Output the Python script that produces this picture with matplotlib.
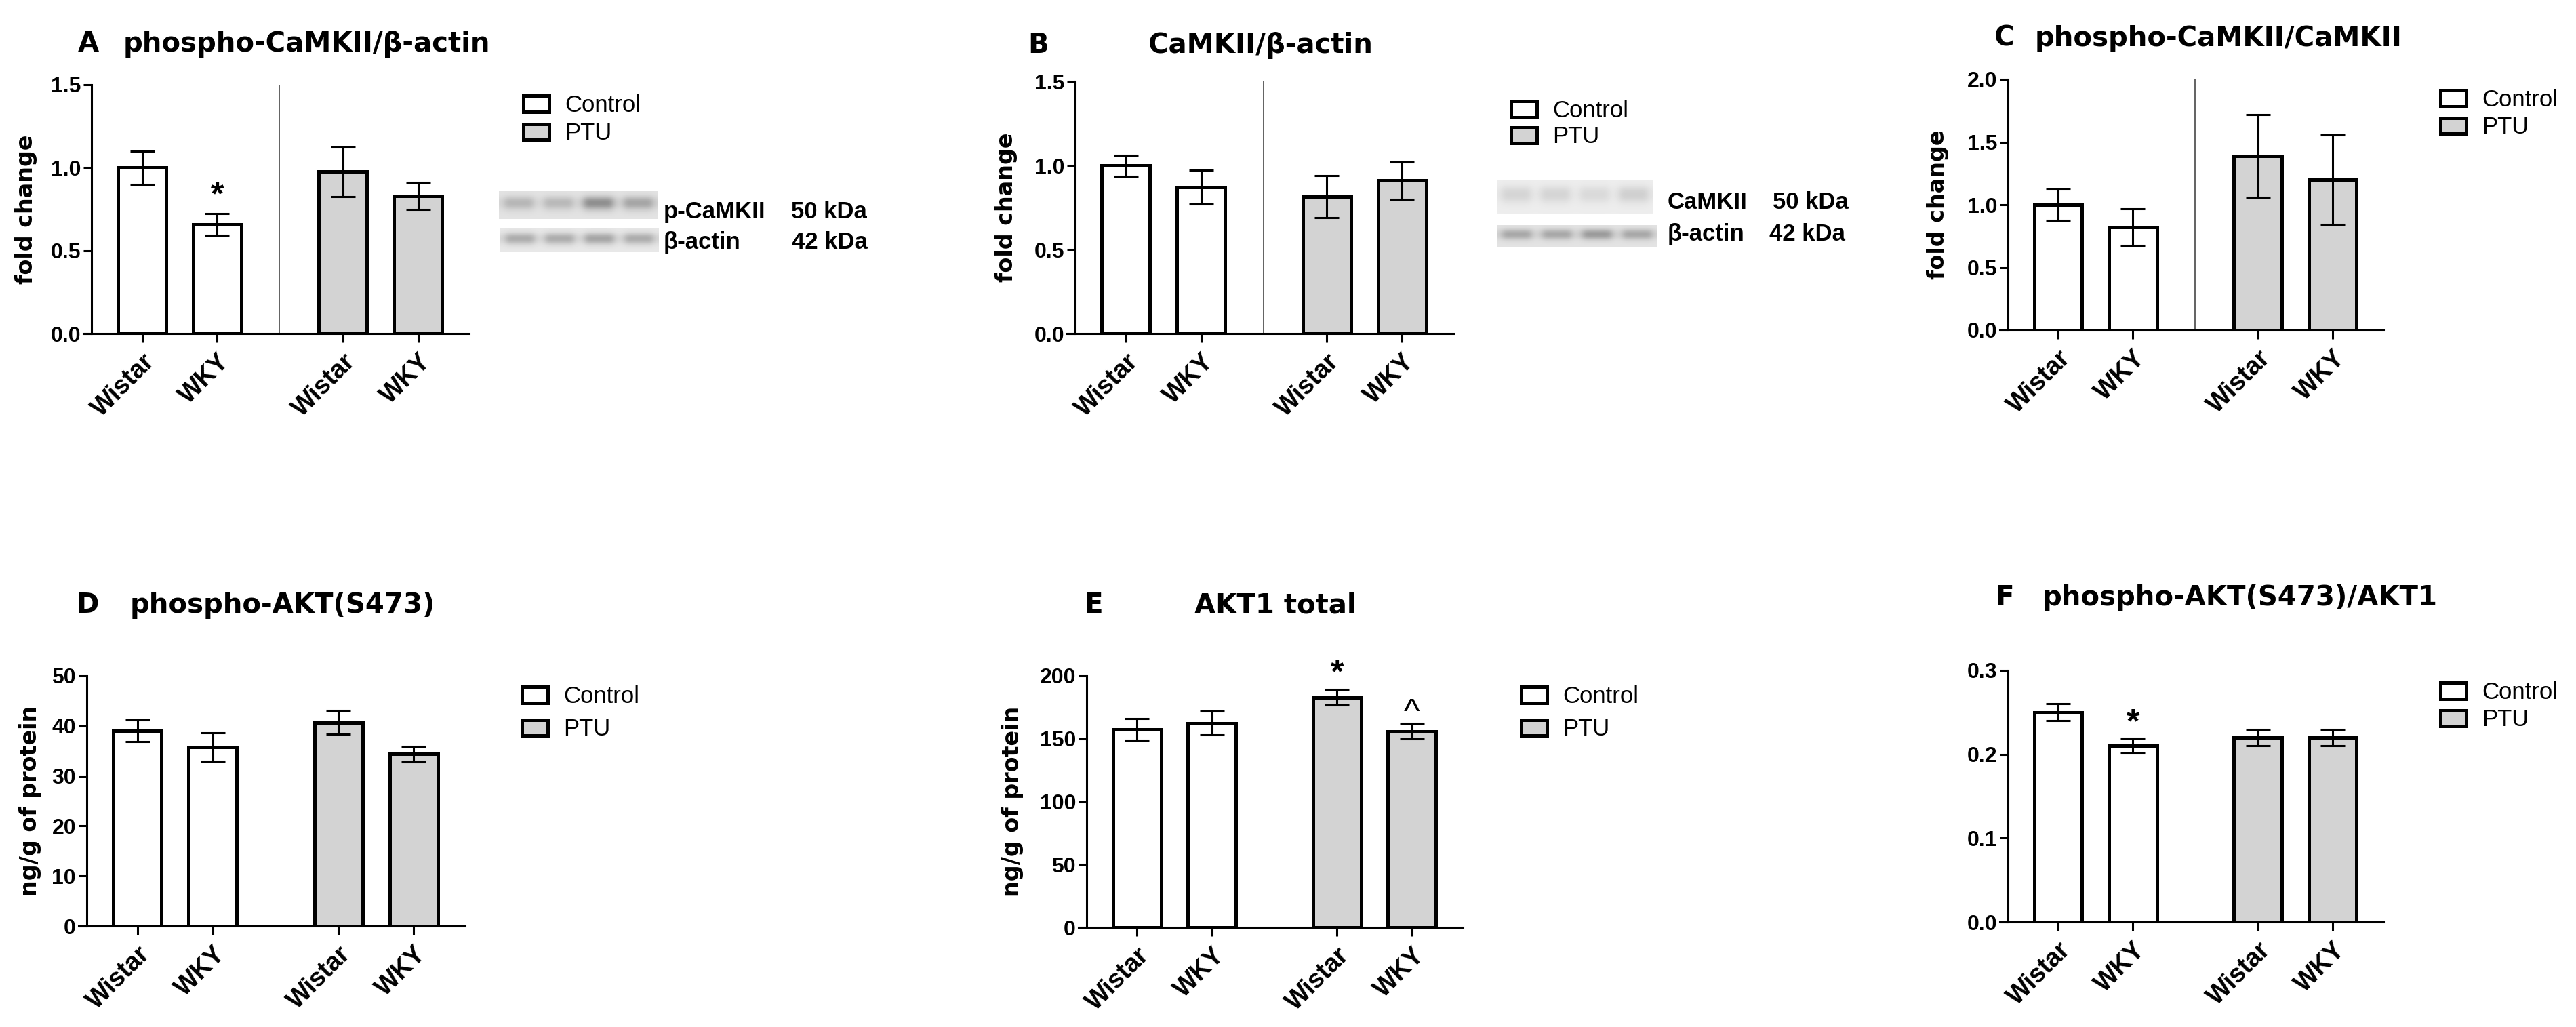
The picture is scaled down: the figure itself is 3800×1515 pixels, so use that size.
import matplotlib
matplotlib.use('Agg')
import matplotlib.pyplot as plt
import numpy as np
from matplotlib.patches import Patch

W, H = 3800, 1515
plt.rcParams['font.family'] = ['Liberation Sans', 'DejaVu Sans']

# data (mean, SEM)
groups = ['Wistar', 'WKY', 'Wistar', 'WKY']
treatments = ['Control', 'Control', 'PTU', 'PTU']
positions = [0, 1, 2.67, 3.67]

a_mean = [1.00, 0.658, 0.975, 0.83]
a_err = [0.10, 0.065, 0.149, 0.083]
b_mean = [0.998, 0.87, 0.815, 0.91]
b_err = [0.063, 0.10, 0.125, 0.11]
c_mean = [1.00, 0.82, 1.39, 1.20]
c_err = [0.122, 0.145, 0.33, 0.355]
d_mean = [39.0, 35.8, 40.7, 34.4]
d_err = [2.15, 2.85, 2.4, 1.55]
e_mean = [157.5, 162.5, 183.0, 156.0]
e_err = [8.5, 9.5, 6.0, 6.0]
f_mean = [0.25, 0.21, 0.22, 0.22]
f_err = [0.01, 0.009, 0.01, 0.01]

titles = {'A': 'phospho-CaMKII/β-actin', 'B': 'CaMKII/β-actin',
          'C': 'phospho-CaMKII/CaMKII', 'D': 'phospho-AKT(S473)',
          'E': 'AKT1 total', 'F': 'phospho-AKT(S473)/AKT1'}
ylabels = {'A': 'fold change', 'B': 'fold change', 'C': 'fold change',
           'D': 'ng/g of protein', 'E': 'ng/g of protein', 'F': None}
yticks = {'A': [0, 0.5, 1.0, 1.5], 'B': [0, 0.5, 1.0, 1.5],
          'C': [0, 0.5, 1.0, 1.5, 2.0], 'D': [0, 10, 20, 30, 40, 50],
          'E': [0, 50, 100, 150, 200], 'F': [0, 0.1, 0.2, 0.3]}
tick_fmt = {'A': '{:.1f}', 'B': '{:.1f}', 'C': '{:.1f}', 'D': '{:.0f}',
            'E': '{:.0f}', 'F': '{:.1f}'}
sig_marks = [('A', 1, 0.895, '*'), ('E', 2, 210, '*'), ('E', 3, 179, '^'),
             ('F', 1, 0.25, '*')]

# western blot lane darkness (4 lanes each strip)
blot_a_top = [0.18, 0.17, 0.34, 0.25]
blot_a_bot = [0.24, 0.24, 0.27, 0.24]
blot_b_top = [0.10, 0.10, 0.08, 0.12]
blot_b_bot = [0.24, 0.24, 0.29, 0.24]
band_profile = [0.05, 0.2, 0.6, 0.95, 1.0, 0.8, 0.4, 0.15, 0.05, 0.0]

means = {'A': a_mean, 'B': b_mean, 'C': c_mean, 'D': d_mean, 'E': e_mean, 'F': f_mean}
errs = {'A': a_err, 'B': b_err, 'C': c_err, 'D': d_err, 'E': e_err, 'F': f_err}

# layout in figure pixels (left edge = where the x axis line starts)
axes_px = {'A': (123, 125, 692, 492), 'B': (1574, 120, 2144, 492),
           'C': (2950, 117, 3516, 487), 'D': (116, 997, 686, 1366),
           'E': (1591, 997, 2158, 1368), 'F': (2950, 989, 3516, 1360)}
title_px = {'A': (115, 182, 76), 'B': (1516, 1694, 78), 'C': (2942, 3002, 68),
            'D': (112, 192, 904), 'E': (1599, 1762, 904), 'F': (2943, 3013, 893)}
legend_px = {'A': (772, 141, 41), 'B': (2229, 149, 38), 'C': (3600, 133, 40),
             'D': (770, 1013, 48), 'E': (2244, 1013, 48), 'F': (3600, 1007, 40)}
ylabel_x = {'A': -0.12, 'B': -0.128, 'C': -0.132, 'D': -0.097, 'E': -0.143}
dividers = {'A', 'B', 'C'}
X_LEFT, SPINE_X, X_RIGHT = -0.78, -0.67, 4.35

PTU_GRAY = '#d3d3d3'
colors = ['white' if t == 'Control' else PTU_GRAY for t in treatments]
BOLD_WIDE = 'DejaVu Sans'

fig = plt.figure(figsize=(W / 100, H / 100), dpi=100)


def rect(x0, y0, x1, y1):
    return [x0 / W, 1 - y1 / H, (x1 - x0) / W, (y1 - y0) / H]


axes = {}
for key in 'ABCDEF':
    ax = fig.add_axes(rect(*axes_px[key]))
    axes[key] = ax
    ax.bar(positions, means[key], width=0.64, color=colors, edgecolor='black',
           linewidth=3.6, zorder=2)
    ax.errorbar(positions, means[key], yerr=errs[key], fmt='none', ecolor='black',
                elinewidth=2.2, capsize=13, capthick=2.2, zorder=3)
    ticks = yticks[key]
    ax.set_ylim(0, ticks[-1])
    ax.set_xlim(X_LEFT, X_RIGHT)
    ax.spines['left'].set_position(('data', SPINE_X))
    ax.set_yticks(ticks)
    ax.set_yticklabels([tick_fmt[key].format(t) for t in ticks])
    ax.set_xticks(positions)
    ax.set_xticklabels(groups, rotation=45, ha='right', rotation_mode='anchor',
                       fontsize=27, fontweight='bold')
    for lab in ax.get_yticklabels():
        lab.set_fontweight('bold')
    ax.tick_params(axis='y', length=8.6, width=2.2, labelsize=23, pad=3)
    ax.tick_params(axis='x', length=9, width=2.2, pad=8)
    for side in ['top', 'right']:
        ax.spines[side].set_visible(False)
    for side in ['left', 'bottom']:
        ax.spines[side].set_linewidth(2.2)
    if key in dividers:
        ax.axvline(1.83, ymin=0, ymax=1, color='#555555', linewidth=1.3, zorder=1)
    if ylabels[key]:
        ax.set_ylabel(ylabels[key], fontsize=24, fontweight='bold', family=BOLD_WIDE)
        ax.yaxis.set_label_coords(ylabel_x[key], 0.5)

    lx, ly, sp = legend_px[key]
    handles = [Patch(facecolor='white', edgecolor='black', linewidth=3.6),
               Patch(facecolor=PTU_GRAY, edgecolor='black', linewidth=3.6)]
    ax.legend(handles, ['Control', 'PTU'], loc='upper left',
              bbox_to_anchor=(lx / W, 1 - (ly - 2) / H), bbox_transform=fig.transFigure,
              frameon=False, fontsize=25, handlelength=1.09, handleheight=0.66,
              handletextpad=0.66, labelspacing=(sp - 32.6) / 34.72,
              borderpad=0, borderaxespad=0)

    letter_x, text_x, base_y = title_px[key]
    fig.text(letter_x / W, 1 - base_y / H, key, fontsize=29, fontweight='bold',
             family=BOLD_WIDE, va='baseline')
    fig.text(text_x / W, 1 - base_y / H, titles[key], fontsize=29, fontweight='bold',
             family=BOLD_WIDE, va='baseline')

for key, idx, yc, sym in sig_marks:
    fs = 36
    axes[key].annotate(sym, (positions[idx], yc), xytext=(0, -0.58 * fs),
                       textcoords='offset points', ha='center', va='baseline',
                       fontsize=fs, fontweight='bold' if sym == '*' else 'normal',
                       annotation_clip=False)


def draw_blot(x0, y0, x1, y1, lanes, bg):
    bax = fig.add_axes(rect(x0, y0, x1, y1))
    prof = np.array(band_profile)
    lane_row = []
    for d in lanes:
        lane_row += [0.3 * d, d, d, d, d, d, 0.3 * d]
    img = bg - np.outer(prof, np.array(lane_row))
    bax.imshow(img, cmap='gray', vmin=0, vmax=1, aspect='auto',
               interpolation='bicubic')
    bax.axis('off')


draw_blot(736, 282, 971, 323, blot_a_top, 0.89)
draw_blot(738, 337, 971, 372, blot_a_bot, 0.91)
draw_blot(2208, 265, 2439, 316, blot_b_top, 0.93)
draw_blot(2208, 332, 2445, 364, blot_b_bot, 0.89)

blot_labels = [(979, 322, 'p-CaMKII'), (1167, 322, '50 kDa'),
               (979, 367, 'β-actin'), (1168, 367, '42 kDa'),
               (2460, 308, 'CaMKII'), (2615, 308, '50 kDa'),
               (2460, 355, 'β-actin'), (2610, 355, '42 kDa')]
for x, y, s in blot_labels:
    fig.text(x / W, 1 - y / H, s, fontsize=25, fontweight='bold', va='baseline')

fig.savefig('out.png', dpi=100)
